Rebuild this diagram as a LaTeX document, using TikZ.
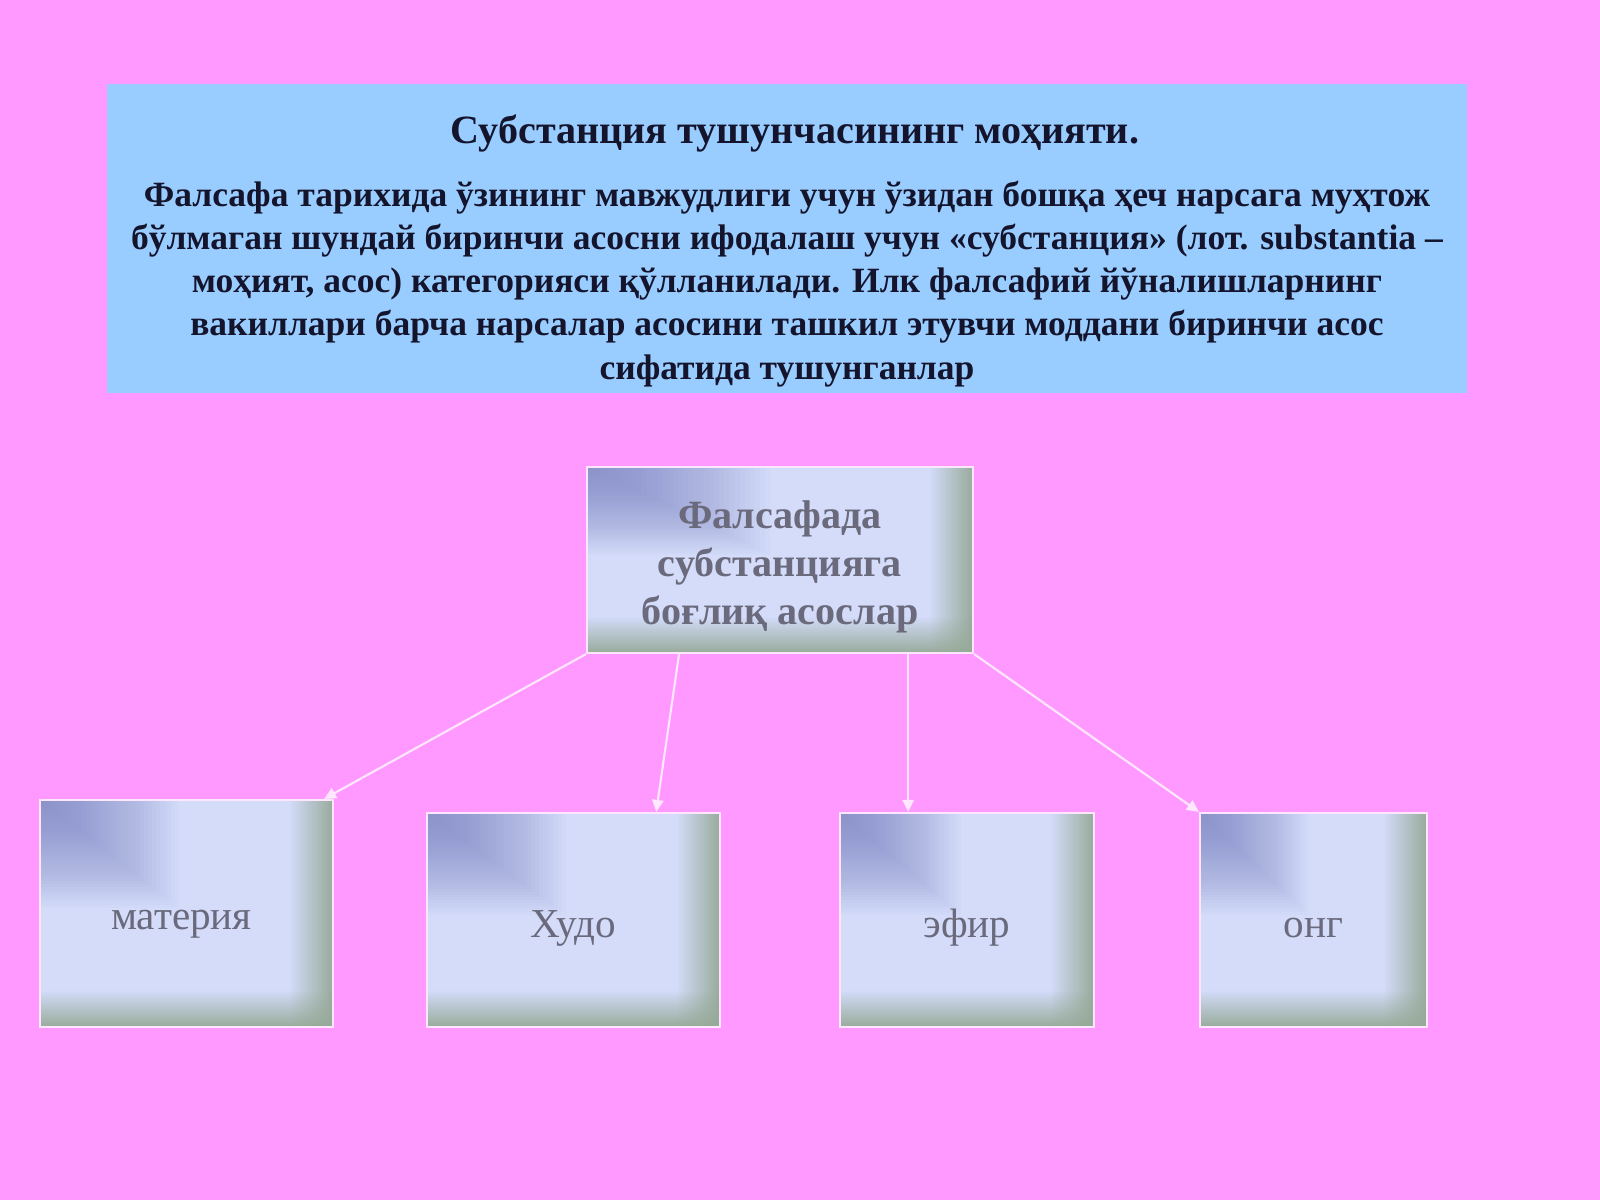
\documentclass[tikz,border=0pt]{standalone}
\usepackage{fontspec}
\setmainfont{Liberation Serif}
\usetikzlibrary{arrows.meta,calc,fadings,backgrounds}
\definecolor{bgpink}{HTML}{FF99FF}
\definecolor{topblue}{HTML}{99CCFF}
\definecolor{boxbase}{HTML}{D4DCFA}
\definecolor{boxcorner}{HTML}{767EC2}
\definecolor{boxedge}{HTML}{96AA98}
\definecolor{txtgrey}{HTML}{6A6A7C}
\definecolor{txtdark}{HTML}{14142C}
\definecolor{arrowcol}{HTML}{FFE8FF}
\tikzfading[name=fadetoright, left color=transparent!100, right color=transparent!0]
\tikzfading[name=fadetobottom, top color=transparent!100, bottom color=transparent!0]
\newcommand{\boxshade}[1]{%
  \begin{scope}
    \clip (#1.south west) rectangle (#1.north east);
    \fill[boxbase] (#1.south west) rectangle (#1.north east);
    \foreach \k in {1,...,36}{
      \fill[boxcorner, opacity=0.03] (#1.north west) rectangle ($(#1.north west)!\k/36*0.95!(#1.center)$);
    }
    \fill[boxedge, path fading=fadetoright] ([xshift=-0.45cm]#1.north east) rectangle (#1.south east);
    \fill[boxedge, path fading=fadetobottom] ([yshift=0.38cm]#1.south west) rectangle (#1.south east);
  \end{scope}}
\tikzset{
  topbox/.style={fill=topblue, inner sep=0pt, minimum width=13.6cm, minimum height=3.09cm},
  titletext/.style={text=txtdark, font=\fontsize{11.4}{14}\selectfont\bfseries},
  bodytext/.style={text=txtdark, align=center, inner sep=0pt, font=\fontsize{10.1}{12.25}\selectfont\bfseries},
  gbox/.style={draw=white!75!bgpink, line width=0.6pt, inner sep=0pt, align=center, text=txtgrey},
  maintext/.style={font=\fontsize{11.4}{13.7}\selectfont\bfseries},
  leaftext/.style={font=\fontsize{11.7}{14}\selectfont},
  conn/.style={draw=arrowcol, line width=0.6pt, -{Triangle[length=3.4pt,width=3.2pt]}}
}
\begin{document}
\begin{tikzpicture}[x=0.01cm,y=-0.01cm]
\useasboundingbox (0,0) rectangle (1600,1200);
\node[topbox] (top) at (787,238.5) {};
\node[titletext] (title) at (795,133) {Субстанция тушунчасининг моҳияти.};
\node[bodytext] (body) at (787,284) {Фалсафа тарихида ўзининг мавжудлиги учун ўзидан бошқа ҳеч нарсага муҳтож\\
бўлмаган шундай биринчи асосни ифодалаш учун «субстанция» (лот. substantia –\\
моҳият, асос) категорияси қўлланилади. Илк фалсафий йўналишларнинг\\
вакиллари барча нарсалар асосини ташкил этувчи моддани биринчи асос\\
сифатида тушунганлар};
\node[gbox, maintext, minimum width=3.86cm, minimum height=1.86cm] (c) at (780,560) {\raisebox{-0.07cm}[\height][\depth]{\begin{tabular}{@{}c@{}}Фалсафада\\субстанцияга\\боғлиқ асослар\end{tabular}}};
\node[gbox, leaftext, minimum width=2.93cm, minimum height=2.27cm] (m) at (186.5,913.5) {\raisebox{-0.11cm}[\height][\depth]{\hspace*{-0.1cm}материя}};
\node[gbox, leaftext, minimum width=2.93cm, minimum height=2.14cm] (h) at (573.5,920) {\raisebox{-0.08cm}[\height][\depth]{Худо}};
\node[gbox, leaftext, minimum width=2.54cm, minimum height=2.14cm] (e) at (967,920) {\raisebox{-0.08cm}[\height][\depth]{эфир}};
\node[gbox, leaftext, minimum width=2.27cm, minimum height=2.14cm] (o) at (1313.5,920) {\raisebox{-0.08cm}[\height][\depth]{онг}};
\coordinate (a2s) at ($(c.south west)!0.24!(c.south east)$);
\coordinate (a3s) at ($(c.south west)!0.83!(c.south east)$);
\coordinate (a2e) at ($(h.north west)!0.78!(h.north east)$);
\coordinate (a1e) at ([xshift=-0.1cm]m.north east);
\draw[conn] (c.south west) -- (a1e);
\draw[conn] (a2s) -- (a2e);
\draw[conn] (a3s) -- (a3s |- e.north);
\draw[conn] (c.south east) -- (o.north west);
\begin{scope}[on background layer]
\fill[bgpink] (0,0) rectangle (1600,1200);
\boxshade{c}
\boxshade{m}
\boxshade{h}
\boxshade{e}
\boxshade{o}
\end{scope}
\end{tikzpicture}
\end{document}
